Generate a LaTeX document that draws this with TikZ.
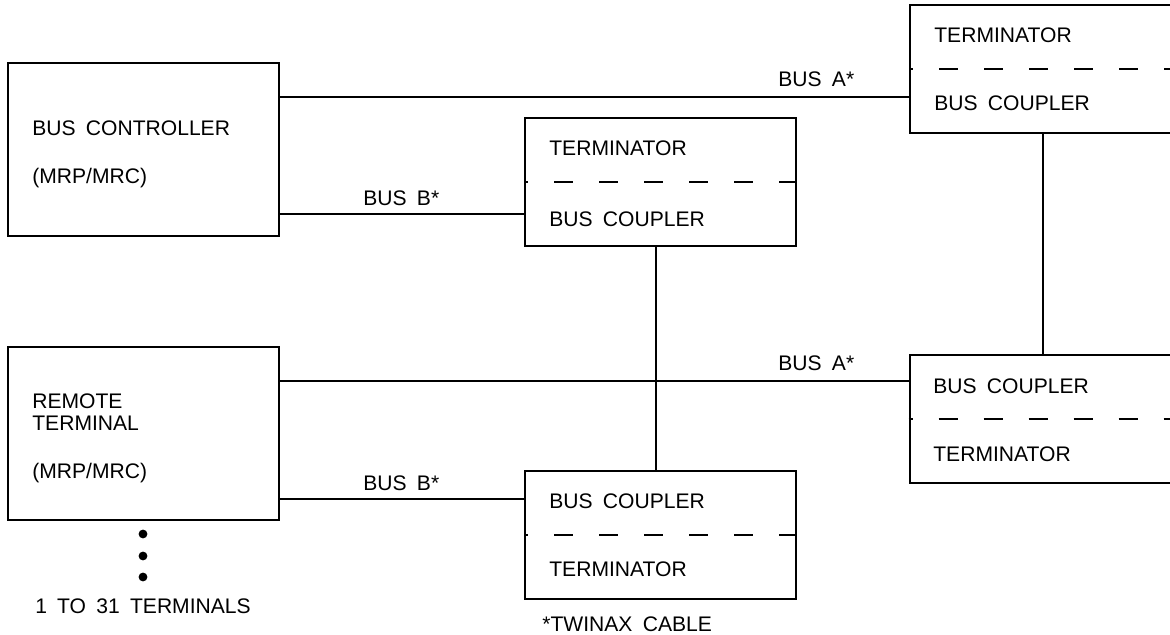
\documentclass[tikz,border=0pt]{standalone}
\usepackage{fontspec}
\setmainfont[WordSpace=1.75]{Liberation Sans}

\begin{document}
\begin{tikzpicture}[x=.02cm,y=-.02cm,
    font=\fontsize{12}{14}\selectfont,
    unit/.style={draw,line width=1.1pt,inner sep=0,
      minimum width=5.42cm,minimum height=3.46cm},
    coupler/.style={unit,minimum height=2.56cm},
    divider/.style={line width=1.1pt,dash pattern=on .38cm off .52cm,dash phase=.3cm},
    lbl/.style={anchor=base west,inner sep=0},
    bus/.style={line width=1.1pt}]
      \useasboundingbox (0,0) rectangle (1170,635);
      \clip (0,0) rectangle (1170,635);
      % units on the left
      \node[unit] (ctrl) at (143.5,149.5) {};
      \node[lbl] (ctrlname) at (32,135) {BUS CONTROLLER};
      \node[lbl] (ctrltype) at (32,183) {(MRP/MRC)};
      \node[unit] (rt) at (143.5,433.5) {};
      \node[lbl] (rtname) at (32,408) {REMOTE};
      \node[lbl] (rtname2) at (32,430) {TERMINAL};
      \node[lbl] (rttype) at (32,478) {(MRP/MRC)};
      \foreach \y/\i in {534/1,556/2,577/3}
        \fill (143,\y) circle (4.4);
      \node[anchor=base,inner sep=0] (count) at (143,613) {1 TO 31 TERMINALS};
      % couplers
      \node[coupler] (tc) at (660.5,182) {};
      \node[lbl] (tcterm) at (549,155) {TERMINATOR};
      \node[lbl] (tccpl) at (549,226) {BUS COUPLER};
      \node[coupler] (bc) at (660.5,535) {};
      \node[lbl] (bccpl) at (549,508) {BUS COUPLER};
      \node[lbl] (bcterm) at (549,576) {TERMINATOR};
      \node[coupler] (tr) at (1045.5,69) {};
      \node[lbl] (trterm) at (934,43) {TERMINATOR};
      \node[lbl] (trcpl) at (934,111) {BUS COUPLER};
      \node[coupler] (br) at (1045,419) {};
      \node[lbl] (brcpl) at (933,393) {BUS COUPLER};
      \node[lbl] (brterm) at (933,461) {TERMINATOR};
      \foreach \n in {tc,bc,tr,br}
        \draw[divider] (\n.west) -- (\n.east);
      \node[lbl] (note) at (542,631) {*TWINAX CABLE};
      % bus cables
      \coordinate (trA) at (910,97);
      \coordinate (tcB) at (525,214);
      \coordinate (brA) at (909,381);
      \coordinate (bcB) at (525,499);
      \draw[bus] (ctrl.east |- trA) -- (trA);
      \draw[bus] (ctrl.east |- tcB) -- (tcB);
      \draw[bus] (rt.east |- brA) -- (brA);
      \draw[bus] (rt.east |- bcB) -- (bcB);
      \draw[bus] (tc.south -| 656,0) -- (bc.north -| 656,0);
      \draw[bus] (tr.south -| 1043,0) -- (br.north -| 1043,0);
      \node[lbl] (busa1) at (778,87) {BUS A*};
      \node[lbl] (busb1) at (363,205) {BUS B*};
      \node[lbl] (busa2) at (778,370) {BUS A*};
      \node[lbl] (busb2) at (363,490) {BUS B*};
    \end{tikzpicture}
\end{document}
